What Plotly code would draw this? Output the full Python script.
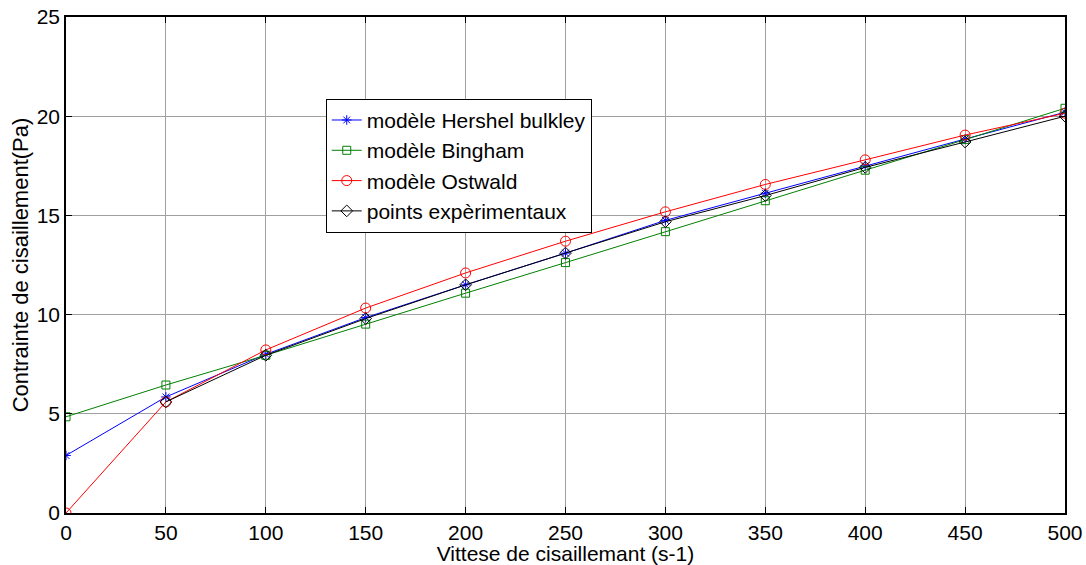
import plotly.graph_objects as go

# Shear rate (s-1)
vitesse = [0, 50, 100, 150, 200, 250, 300, 350, 400, 450, 500]
vitesse_exp = [50, 100, 150, 200, 250, 300, 350, 400, 450, 500]

# Shear stress (Pa) for each model
herschel = [2.9, 5.85, 8.0, 9.85, 11.5, 13.1, 14.75, 16.12, 17.5, 18.85, 20.2]
bingham = [4.85, 6.45, 7.95, 9.52, 11.08, 12.62, 14.18, 15.74, 17.28, 18.82, 20.4]
ostwald = [0.0, 5.6, 8.22, 10.33, 12.1, 13.7, 15.18, 16.56, 17.8, 19.05, 20.15]
experimental = [5.6, 7.95, 9.8, 11.5, 13.1, 14.68, 16.0, 17.42, 18.7, 20.0]

FONT = "Liberation Sans, Arial, sans-serif"

fig = go.Figure()
series = [
    ("modèle Hershel bulkley", vitesse, herschel, "#0000ff", "asterisk-open", 8),
    ("modèle Bingham", vitesse, bingham, "#008000", "square-open", 8),
    ("modèle Ostwald", vitesse, ostwald, "#ff0000", "circle-open", 10),
    ("points expèrimentaux", vitesse_exp, experimental, "#000000", "diamond-open", 9),
]
for name, xs, ys, color, symbol, size in series:
    fig.add_trace(go.Scatter(
        x=xs, y=ys, name=name, mode="lines+markers",
        line=dict(color=color, width=1),
        marker=dict(symbol=symbol, size=size, color=color, line=dict(color=color, width=1)),
    ))

axis_common = dict(
    showline=True, linecolor="black", linewidth=1.5, mirror="allticks",
    ticks="inside", ticklen=6, tickcolor="black",
    showgrid=True, gridcolor="#a0a0a0", gridwidth=1,
    zeroline=False, automargin=False,
    tickfont=dict(family=FONT, size=21, color="black"),
)

fig.update_layout(
    width=1086, height=565,
    margin=dict(l=66, r=21, t=17, b=52),
    paper_bgcolor="white", plot_bgcolor="white",
    font=dict(family=FONT, color="black"),
    xaxis=dict(range=[0, 500], dtick=50, ticklabelstandoff=0,
               title=dict(text="Vittese de cisaillemant (s-1)", font=dict(size=21), standoff=2),
               **axis_common),
    yaxis=dict(range=[0, 25], dtick=5, ticklabelstandoff=0,
               title=dict(text="Contrainte de cisaillement(Pa)", font=dict(size=22), standoff=2),
               **axis_common),
    legend=dict(
        x=0.26, y=0.835, xanchor="left", yanchor="top",
        bgcolor="white", bordercolor="black", borderwidth=1,
        font=dict(family=FONT, size=21, color="black"),
        tracegroupgap=0, itemwidth=30,
    ),
)

fig.write_html("out.html")
